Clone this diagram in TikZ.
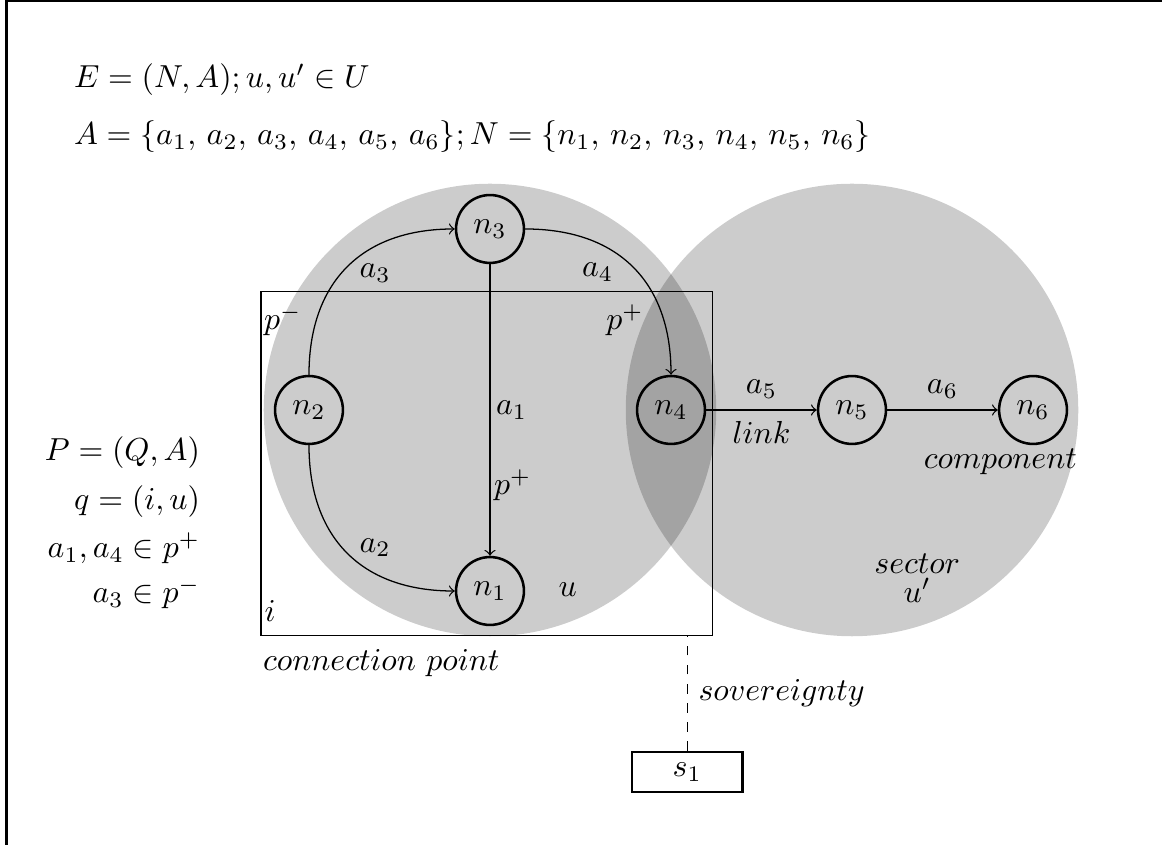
\documentclass[tikz,border=0pt]{standalone}
\begin{document}
\begin{tikzpicture}[
vertex/.style={
draw,
circle,
thick,
minimum size=0.75cm,
inner sep=0pt
},
zone/.style={
fill=black,
fill opacity=0.2
}
]

\useasboundingbox (-3.414,-4.796) rectangle (9.425,4.530);
\draw[line width=0.8pt] (-3.34,-4.9) -- (-3.34,4.52) -- (9.6,4.52);

% sectors
\fill[zone] (2,0) circle (2.5);
\fill[zone] (6,0) circle (2.5);

\node[draw, minimum width=4.99cm, minimum height=3.8cm] (cp) at (1.965,-0.59) {};

\node[vertex] (n2) at (0,0) {$n_2$};
\node[vertex] (n3) at (2,2) {$n_3$};
\node[vertex] (n1) at (2,-2) {$n_1$};
\node[vertex] (n4) at (4,0) {$n_4$};
\node[vertex] (n5) at (6,0) {$n_5$};
\node[vertex] (n6) at (8,0) {$n_6$};

\node[draw, thick, minimum width=1.22cm, minimum height=0.44cm] (s1) at (4.18,-4) {$s_1$};

\draw[->] (n2) to[out=90, in=180, looseness=1.15] (n3);
\draw[->] (n3) to[out=0, in=90, looseness=1.15] (n4);
\draw[->] (n2) to[out=-90, in=180, looseness=1.15] (n1);
\draw[->] (n3) -- (n1);
\draw[->] (n4) -- node[above] {$a_5$} node[below] {$link$} (n5);
\draw[->] (n5) -- node[above] {$a_6$} (n6);
\draw[dashed] (s1) -- node[right] {$sovereignty$} (s1 |- cp.south);

% labels
\node (la3) at (0.73,1.51) {$a_3$};
\node (la4) at (3.19,1.52) {$a_4$};
\node (lpm) at (-0.29,0.99) {$p^-$};
\node (lpp) at (3.49,0.99) {$p^+$};
\node (la1) at (2.24,0) {$a_1$};
\node (lpp2) at (2.25,-0.83) {$p^+$};
\node (la2) at (0.73,-1.52) {$a_2$};
\node (lu) at (2.86,-1.99) {$u$};
\node (li) at (-0.43,-2.22) {$i$};
\node (lcp) at (0.8,-2.8) {$connection\ point$};
\node (lcomp) at (7.64,-0.57) {$component$};
\node[align=center] (lsec) at (6.72,-1.86) {$sector$\\[-3pt]$u'$};

% definitions
\node[anchor=west] (E) at (-2.72,3.65) {$E=(N,A);u,u'\in U$};
\node[anchor=west] (A) at (-2.72,3.02) {$A=\{a_1,\,a_2,\,a_3,\,a_4,\,a_5,\,a_6\};N=\{n_1,\,n_2,\,n_3,\,n_4,\,n_5,\,n_6\}$};
\node[anchor=east] (P) at (-1.08,-0.475) {$P=(Q,A)$};
\node[anchor=east] (q) at (-1.08,-1.017) {$q=(i,u)$};
\node[anchor=east] (pp) at (-1.08,-1.525) {$a_1,a_4\in p^+$};
\node[anchor=east] (pm) at (-1.08,-2.022) {$a_3\in p^-$};

\end{tikzpicture}
\end{document}
